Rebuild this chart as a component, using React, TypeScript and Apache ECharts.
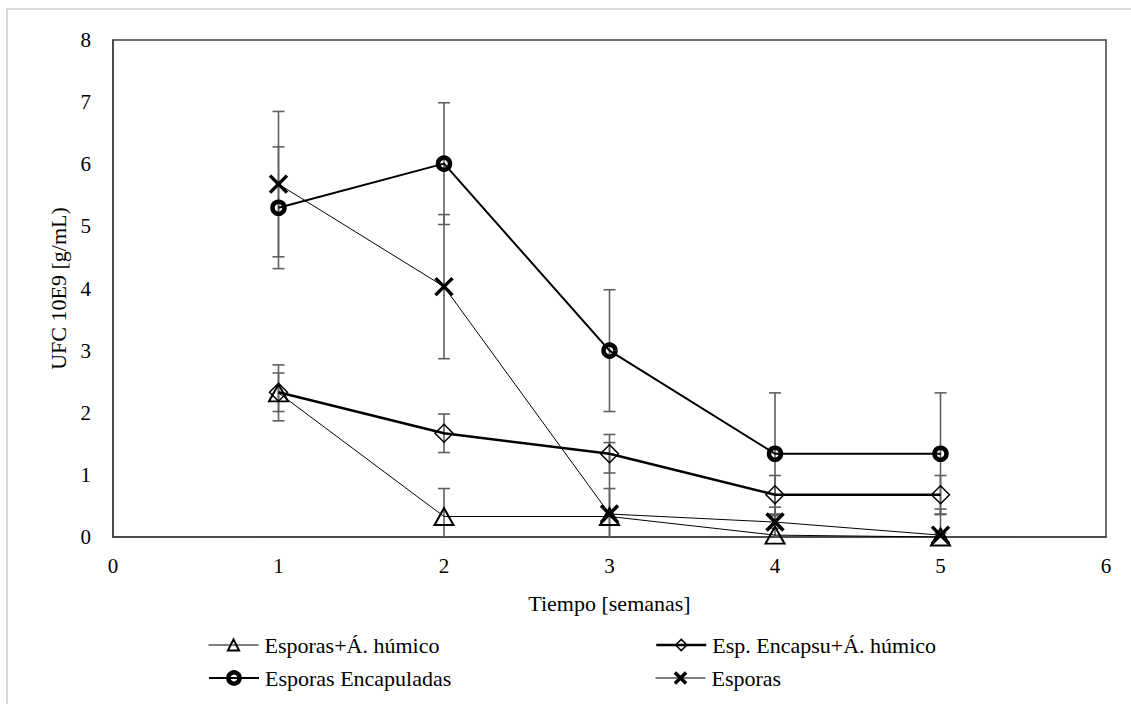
import React, { useEffect, useRef } from "react";
import * as echarts from "echarts";

const weeks = [1, 2, 3, 4, 5];
const names = [
  "Esporas+Á. húmico",
  "Esp. Encapsu+Á. húmico",
  "Esporas Encapuladas",
  "Esporas",
];
const triangleVals = [2.32, 0.33, 0.33, 0.03, 0.0];
const triangleErr = [0.45, 0.45, 0.45, 0.45, 0.45];
const diamondVals = [2.33, 1.67, 1.34, 0.68, 0.68];
const diamondErr = [0.31, 0.31, 0.31, 0.31, 0.31];
const circleVals = [5.3, 6.01, 3.0, 1.34, 1.34];
const circleErr = [0.98, 0.98, 0.98, 0.98, 0.98];
const crossVals = [5.68, 4.03, 0.37, 0.24, 0.03];
const crossErr = [1.17, 1.16, 1.15, 0.1, 0.03];

const FONT = "Liberation Serif";
const ERR_COLOR = "#606060";

function errSeries(vals: number[], errs: number[]) {
  return {
    type: "custom",
    z: 1,
    silent: true,
    data: weeks.map((w, i) => [w, vals[i] - errs[i], vals[i] + errs[i]]),
    renderItem: (params: any, api: any) => {
      const x = api.value(0);
      const lo = api.value(1);
      const hi = api.value(2);
      const loClamped = Math.max(lo, 0);
      const pHi = api.coord([x, hi]);
      const pLo = api.coord([x, loClamped]);
      const style = { stroke: ERR_COLOR, lineWidth: 1.6 };
      const children: any[] = [
        { type: "line", shape: { x1: pHi[0], y1: pHi[1], x2: pLo[0], y2: pLo[1] }, style },
        { type: "line", shape: { x1: pHi[0] - 6, y1: pHi[1], x2: pHi[0] + 6, y2: pHi[1] }, style },
      ];
      if (lo >= 0) {
        children.push({ type: "line", shape: { x1: pLo[0] - 6, y1: pLo[1], x2: pLo[0] + 6, y2: pLo[1] }, style });
      }
      return { type: "group", children };
    },
  };
}

export default function App() {
  const ref = useRef<HTMLDivElement>(null);
  useEffect(() => {
    if (!ref.current) return;
    const chart = echarts.init(ref.current, undefined, { renderer: "svg" });
    const legendCommon = {
      itemWidth: 50,
      itemHeight: 14,
      itemGap: 0,
      padding: 0,
      textStyle: { fontFamily: FONT, fontSize: 22, color: "#000", padding: [0, 0, 0, 1] },
      itemStyle: { borderWidth: "inherit" },
      lineStyle: { width: "inherit", color: "#000" },
    };
    const lineSeries = (name: string, vals: number[], symbol: string, size: any, lw: number, bw: number) => ({
      type: "line",
      name,
      z: 3,
      data: weeks.map((w, i) => [w, vals[i]]),
      symbol,
      symbolSize: size,
      showAllSymbol: true,
      lineStyle: { color: "#000", width: lw },
      itemStyle: { color: "rgba(255,255,255,0)", borderColor: "#000", borderWidth: bw },
      emphasis: { disabled: true },
    });
    chart.setOption({
      animation: false,
      backgroundColor: "#fff",
      textStyle: { fontFamily: FONT },
      graphic: [
        {
          type: "rect",
          shape: { x: 7, y: 9, width: 1200, height: 800 },
          style: { fill: "none", stroke: "#d9d9d9", lineWidth: 2 },
          z: -1,
        },
      ],
      grid: {
        left: 113,
        right: 25,
        top: 40,
        bottom: 167,
        show: true,
        borderColor: "#404040",
        borderWidth: 1.5,
        backgroundColor: "transparent",
      },
      legend: [
        { ...legendCommon, data: [names[0]], left: 208, top: 634 },
        { ...legendCommon, data: [names[1]], left: 655, top: 634 },
        { ...legendCommon, data: [names[2]], left: 208, top: 667 },
        { ...legendCommon, data: [names[3]], left: 655, top: 667 },
      ],
      xAxis: {
        type: "value",
        min: 0,
        max: 6,
        interval: 1,
        name: "Tiempo [semanas]",
        nameLocation: "middle",
        nameGap: 55,
        nameTextStyle: { fontFamily: FONT, fontSize: 22, color: "#000" },
        axisLine: { show: true, lineStyle: { color: "#404040", width: 1.5 } },
        axisTick: { show: false },
        splitLine: { show: false },
        axisLabel: { fontFamily: FONT, fontSize: 21, color: "#000", margin: 18 },
      },
      yAxis: {
        type: "value",
        min: 0,
        max: 8,
        interval: 1,
        name: "UFC 10E9 [g/mL)",
        nameLocation: "middle",
        nameGap: 40,
        nameTextStyle: { fontFamily: FONT, fontSize: 22, color: "#000" },
        axisLine: { show: true, lineStyle: { color: "#404040", width: 1.5 } },
        axisTick: { show: false },
        splitLine: { show: false },
        axisLabel: { fontFamily: FONT, fontSize: 21, color: "#000", margin: 22 },
      },
      series: [
        errSeries(triangleVals, triangleErr),
        errSeries(diamondVals, diamondErr),
        errSeries(circleVals, circleErr),
        errSeries(crossVals, crossErr),
        lineSeries(names[0], triangleVals, "triangle", [19, 17], 1, 2),
        lineSeries(names[1], diamondVals, "diamond", 18, 2.5, 1.5),
        lineSeries(names[2], circleVals, "circle", 12, 2, 4.5),
        lineSeries(names[3], crossVals, "path://M0,0L10,10M10,0L0,10", 17, 1, 3.5),
      ],
    });
    return () => chart.dispose();
  }, []);
  return (
    <div
      ref={ref}
      style={{ position: "fixed", left: 0, top: 0, width: 1131, height: 704 }}
    />
  );
}
